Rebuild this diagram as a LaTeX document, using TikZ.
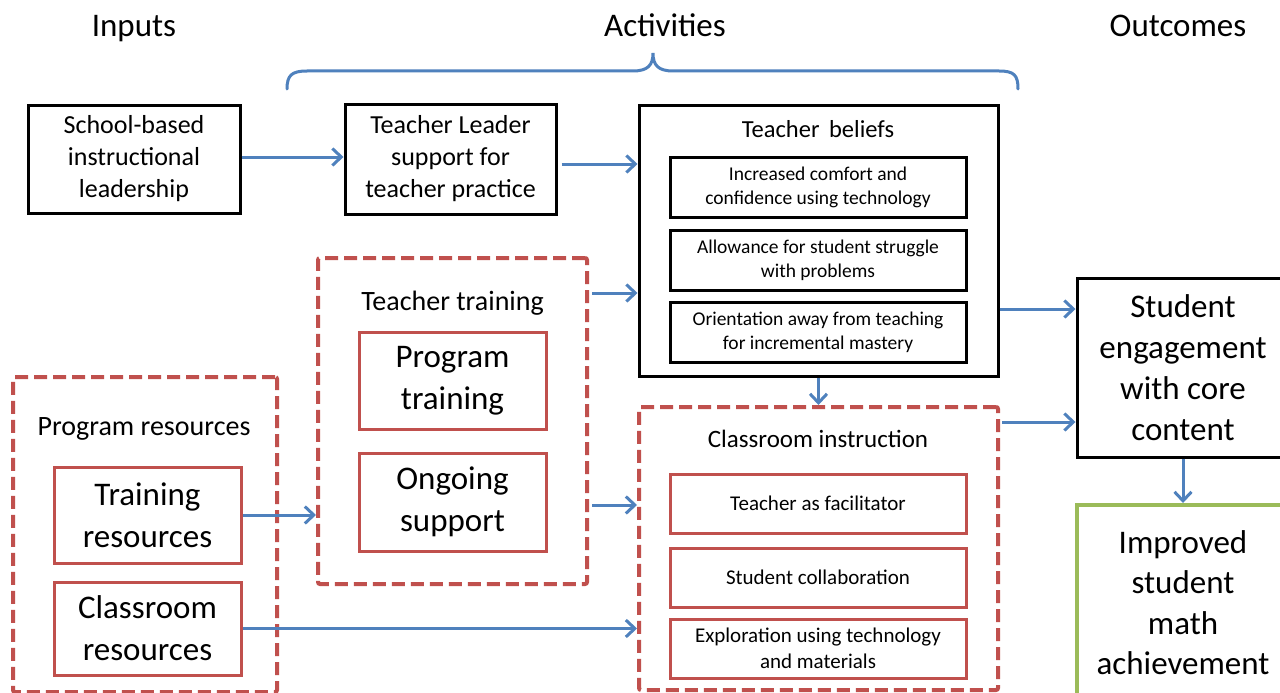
\documentclass[tikz,border=0pt]{standalone}
\usepackage{fontspec}
\setmainfont{Carlito}
\usetikzlibrary{arrows.meta}
\definecolor{ored}{HTML}{C0504D}
\definecolor{oblue}{HTML}{4F81BD}
\definecolor{ogreen}{HTML}{9BBB59}
\tikzset{
  blackbox/.style={draw=black,line width=3pt,inner sep=0pt,align=center},
  redbox/.style={draw=ored,line width=3pt,inner sep=0pt,align=center},
  dashbox/.style={draw=ored,line width=4pt,dash pattern=on 13pt off 6pt,rounded corners=2pt,inner sep=0pt},
  greenbox/.style={draw=ogreen,line width=4pt,inner sep=0pt,align=center},
  arr/.style={draw=oblue,line width=3pt,-{Straight Barb[length=9pt,width=17pt,line width=3pt]}},
  hdr/.style={font=\fontsize{33}{40}\selectfont,anchor=base},
  big/.style={font=\fontsize{33}{41}\selectfont},
  mid/.style={font=\fontsize{26}{32}\selectfont},
  ttl/.style={font=\fontsize{28}{34}\selectfont,anchor=base},
  sub/.style={font=\fontsize{19.5}{24}\selectfont},
  subb/.style={font=\fontsize{21}{26.5}\selectfont},
}
\begin{document}
\begin{tikzpicture}[x=1pt,y=-1pt]
\useasboundingbox (0,0) rectangle (1280,693);
\clip (0,0) rectangle (1280,693);
\fill[white] (0,0) rectangle (1280,693);

% headers
\node[hdr] (hin) at (134,37) {Inputs};
\node[hdr] (hact) at (665,37) {Activities};
\node[hdr] (hout) at (1178,37) {Outcomes};

% brace
\draw[oblue,line width=3pt,line cap=round] (287,89) .. controls (287,75) and (292,71) .. (307,71) -- (633,71)
  .. controls (648,71) and (653,65) .. (653,53)
  .. controls (653,65) and (658,71) .. (673,71) -- (999,71)
  .. controls (1014,71) and (1018,75) .. (1018,89);

% dashed groups
\node[dashbox,minimum width=269pt,minimum height=326pt] (tt) at (452.5,421) {};
\node[dashbox,minimum width=264pt,minimum height=315pt] (pr) at (145,534.5) {};
\node[dashbox,minimum width=359pt,minimum height=283pt] (ci) at (818.5,548.5) {};

% black boxes
\node[blackbox,mid,minimum width=212pt,minimum height=108pt] (sch) at (134,159) {School-based\\instructional\\leadership};
\node[blackbox,mid,minimum width=211pt,minimum height=110pt] (tl) at (450.5,159) {Teacher Leader\\support for\\teacher practice};
\node[blackbox,minimum width=359pt,minimum height=271pt] (tb) at (818.5,240.5) {};
\node[font=\fontsize{24.5}{30}\selectfont,anchor=base] (tbt) at (818,137) {Teacher\ \,beliefs};
\node[blackbox,sub,minimum width=296pt,minimum height=60pt] (tb1) at (818,187) {Increased comfort and\\confidence using technology};
\node[blackbox,sub,minimum width=296pt,minimum height=60pt] (tb2) at (818,260) {Allowance for student struggle\\with problems};
\node[blackbox,sub,minimum width=296pt,minimum height=60pt] (tb3) at (818,332) {Orientation away from teaching\\for incremental mastery};

% teacher training
\node[ttl] (ttt) at (452.5,310) {Teacher training};
\node[redbox,font=\fontsize{33}{42}\selectfont,minimum width=187pt,minimum height=97pt] (pt) at (452.5,380.5) {Program\\training};
\node[redbox,font=\fontsize{33}{42}\selectfont,minimum width=187pt,minimum height=98pt] (os) at (452.5,502) {Ongoing\\support};

% program resources
\node[ttl] (prt) at (144,435) {Program resources};
\node[redbox,font=\fontsize{33}{42}\selectfont,minimum width=187pt,minimum height=96pt] (trr) at (147.5,515) {Training\\resources};
\node[redbox,font=\fontsize{33}{42}\selectfont,minimum width=187pt,minimum height=93pt] (crr) at (147.5,628.5) {Classroom\\resources};

% classroom instruction
\node[font=\fontsize{25}{30}\selectfont,anchor=base] (cit) at (818,447) {Classroom instruction};
\node[redbox,subb,minimum width=296pt,minimum height=59pt] (ci1) at (818,503.5) {Teacher as facilitator};
\node[redbox,subb,minimum width=296pt,minimum height=59pt] (ci2) at (818,577.5) {Student collaboration};
\node[redbox,subb,minimum width=296pt,minimum height=59pt] (ci3) at (818,648.5) {Exploration using technology\\and materials};

% outcomes
\node[blackbox,big,minimum width=212pt,minimum height=179pt] (se) at (1183,367.5) {Student\\engagement\\with core\\content};
\node[greenbox,font=\fontsize{33}{40.5}\selectfont,minimum width=212pt,minimum height=195pt] (imp) at (1183,602.5) {Improved\\student\\math\\achievement};

% arrows
\draw[arr] ([yshift=2pt]sch.east) -- ([yshift=2pt]sch.east -| tl.west);
\draw[arr] ([xshift=4pt,yshift=-5pt]tl.east) coordinate (a1) -- (a1 -| tb.west);
\draw[arr] ([xshift=3pt,yshift=128pt]tt.east) coordinate (a2) -- (a2 -| tb.west);
\draw[arr] ([xshift=3pt,yshift=-84pt]tt.east) coordinate (a3) -- (a3 -| ci.west);
\draw[arr] (trr.east) -- (trr.east -| tt.west);
\draw[arr] (crr.east) -- (crr.east -| ci.west);
\draw[arr] (tb.south) -- (ci.north);
\draw[arr] ([yshift=-68.5pt]tb.east) coordinate (a4) -- (a4 -| se.west);
\draw[arr] ([xshift=2pt,yshift=126.5pt]ci.east) coordinate (a5) -- (a5 -| se.west);
\draw[arr] (se.south) -- (imp.north);
\end{tikzpicture}
\end{document}
